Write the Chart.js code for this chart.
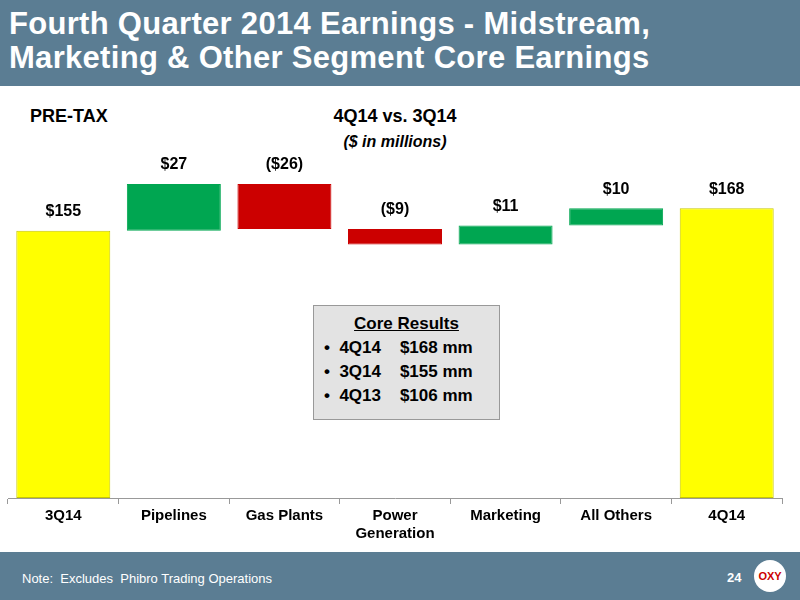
<!DOCTYPE html><html><head><meta charset="utf-8">
<script src="https://cdn.jsdelivr.net/npm/chart.js@4"></script>
<style>
body{margin:0;width:800px;height:600px;position:relative;font-family:"Liberation Sans",Arial,sans-serif;background:#fff;overflow:hidden}
#hdr{position:absolute;left:0;top:0;width:800px;height:86px;background:#5b7d93;color:#fff;font-weight:bold;font-size:31px;line-height:34px;padding:7px 9px;box-sizing:border-box;letter-spacing:0.3px}
#ftr{position:absolute;left:0;top:552px;width:800px;height:48px;background:#5b7d93;color:#fff;font-size:13px}
.t{position:absolute;font-weight:bold;color:#000}
#box{position:absolute;left:313px;top:305px;width:187px;height:115px;background:#e3e3e3;border:1px solid #999;box-sizing:border-box;font-weight:bold;font-size:17px}
canvas{position:absolute;left:0;top:0}
</style></head><body>
<div id="hdr">Fourth Quarter 2014 Earnings - Midstream,<br>Marketing &amp; Other Segment Core Earnings</div>
<div class="t" style="left:30px;top:106px;font-size:18px">PRE-TAX</div>
<div class="t" style="left:320px;top:106px;font-size:18px;width:150px;text-align:center">4Q14 vs. 3Q14</div>
<div class="t" style="left:320px;top:133px;font-size:16px;width:150px;text-align:center;font-style:italic">($ in millions)</div>
<div id="box">
<div style="text-align:center;margin-top:8px;text-decoration:underline">Core Results</div>
<div style="margin:4px 0 0 10px">•&nbsp;&nbsp;4Q14&nbsp;&nbsp;&nbsp;&nbsp;$168 mm</div>
<div style="margin:4px 0 0 10px">•&nbsp;&nbsp;3Q14&nbsp;&nbsp;&nbsp;&nbsp;$155 mm</div>
<div style="margin:4px 0 0 10px">•&nbsp;&nbsp;4Q13&nbsp;&nbsp;&nbsp;&nbsp;$106 mm</div>
</div>
<canvas id="c" width="800" height="600"></canvas>
<div id="ftr"><span style="position:absolute;left:22px;top:19px">Note:&nbsp; Excludes&nbsp; Phibro Trading Operations</span>
<span style="position:absolute;left:727px;top:18px;font-weight:bold">24</span>
<div style="position:absolute;left:754px;top:8px;width:32px;height:32px;border-radius:50%;background:#fff;color:#c00;font-weight:bold;font-size:11px;text-align:center;line-height:32px">OXY</div></div>
<script>
const categories=[["3Q14"],["Pipelines"],["Gas Plants"],["Power","Generation"],["Marketing"],["All Others"],["4Q14"]];
const starts=[0,155,182,156,147,158,0];
const ends=[155,182,156,147,158,168,168];
const valueLabels=["$155","$27","($26)","($9)","$11","$10","$168"];
const colors=["#ffff00","#00a651","#cc0000","#cc0000","#00a651","#00a651","#ffff00"];
const lbl={id:'lbl',afterDatasetsDraw(ch){const c=ch.ctx,m=ch.getDatasetMeta(0);c.save();c.font='bold 16px "Liberation Sans",Arial';c.fillStyle='#000';c.textAlign='center';c.textBaseline='bottom';
m.data.forEach((b,i)=>{const top=ch.scales.y.getPixelForValue(Math.max(starts[i],ends[i]));c.fillText(valueLabels[i],b.x,top-11);});c.restore();}};
new Chart(document.getElementById('c'),{type:'bar',data:{labels:categories,datasets:[{data:starts.map((s,i)=>[s,ends[i]]),backgroundColor:colors,borderColor:colors.map(c=>c=="#ffff00"?"#c8c800":c),borderWidth:1,borderSkipped:false,categoryPercentage:1,barPercentage:0.85}]},
options:{responsive:false,animation:false,layout:{padding:{left:8,right:18,top:153,bottom:54}},plugins:{legend:{display:false},tooltip:{enabled:false}},
scales:{y:{display:false,min:0,max:200},x:{offset:true,grid:{offset:true,drawOnChartArea:false,tickLength:6,color:'#999'},border:{color:'#999'},ticks:{color:'#000',font:{size:15,weight:'bold',family:'"Liberation Sans",Arial'}}}}},plugins:[lbl]});
</script></body></html>
